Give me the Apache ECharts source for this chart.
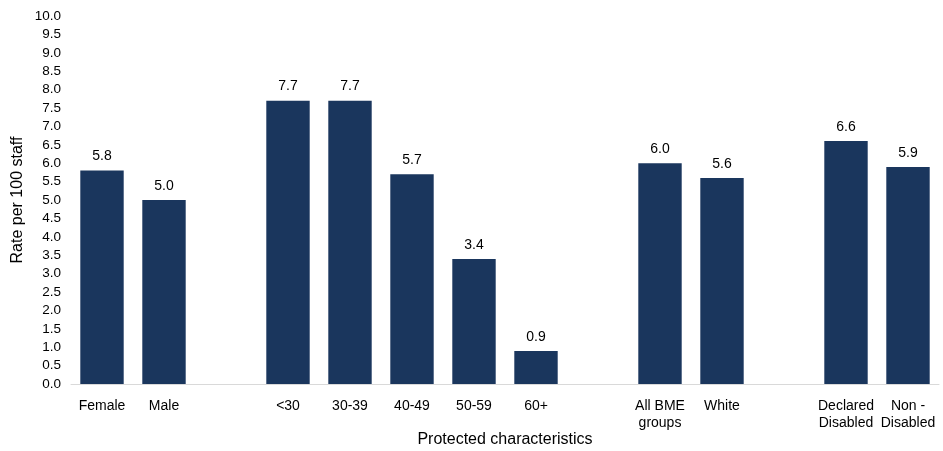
<!DOCTYPE html>
<html><head><meta charset="utf-8">
<script src="https://cdn.jsdelivr.net/npm/echarts@6/dist/echarts.min.js"></script>
<style>html,body{margin:0;padding:0;background:#fff}#c{width:943px;height:451px}</style>
</head><body><div id="c"></div>
<script>
const categories = ['Female','Male','','<30','30-39','40-49','50-59','60+','','All BME\ngroups','White','','Declared\nDisabled','Non -\nDisabled'];
const rates = [5.8,5.0,null,7.7,7.7,5.7,3.4,0.9,null,6.0,5.6,null,6.6,5.9];
const yTicks = {min:0,max:10,interval:0.5};
const chart = echarts.init(document.getElementById('c'));
const font = 'Liberation Sans, Arial, sans-serif';
chart.setOption({
  animation:false,
  textStyle:{fontFamily:font},
  grid:{left:71,right:4,top:16,bottom:67,containLabel:false,outerBoundsMode:'none'},
  xAxis:{type:'category',data:categories,
    axisLine:{lineStyle:{color:'#d9d9d9',width:1}},axisTick:{show:false},
    axisLabel:{interval:0,color:'#000',fontSize:14,fontFamily:font,lineHeight:17,margin:14},
    name:'Protected characteristics',nameLocation:'middle',nameGap:48,nameMoveOverlap:false,
    nameTextStyle:{color:'#000',fontSize:16,fontFamily:font}},
  yAxis:{type:'value',min:yTicks.min,max:yTicks.max,interval:yTicks.interval,
    splitLine:{show:false},axisLine:{show:false},axisTick:{show:false},
    axisLabel:{color:'#000',fontSize:13.5,fontFamily:font,margin:10,formatter:v=>v.toFixed(1)},
    name:'Rate per 100 staff',nameLocation:'middle',nameGap:45,nameRotate:90,nameMoveOverlap:false,
    nameTextStyle:{color:'#000',fontSize:16,fontFamily:font}},
  series:[{type:'bar',data:rates,barWidth:'70%',
    itemStyle:{color:'#1a365d'},
    label:{show:true,position:'top',distance:7,color:'#000',fontSize:14,fontFamily:font,
      formatter:p=>p.value==null?'':p.value.toFixed(1)}}]
});
</script></body></html>
